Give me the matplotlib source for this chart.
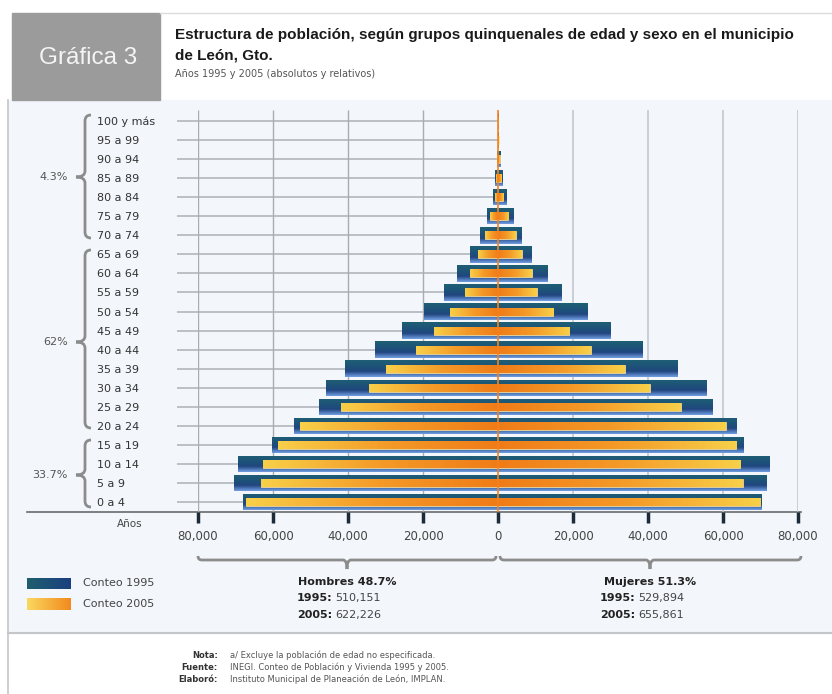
import numpy as np
import matplotlib
matplotlib.use('Agg')
import matplotlib.pyplot as plt
from matplotlib.colors import LinearSegmentedColormap
from matplotlib.patches import Rectangle, PathPatch
from matplotlib.path import Path

plt.rcParams['font.family'] = ['DejaVu Sans']

# grupos de edad, de abajo hacia arriba
edades = ['0 a 4', '5 a 9', '10 a 14', '15 a 19', '20 a 24', '25 a 29', '30 a 34',
          '35 a 39', '40 a 44', '45 a 49', '50 a 54', '55 a 59', '60 a 64', '65 a 69',
          '70 a 74', '75 a 79', '80 a 84', '85 a 89', '90 a 94', '95 a 99', '100 y más']

hombres_1995 = [68000, 70500, 69400, 60400, 54500, 47800, 45800, 40900, 32700, 25600, 19700,
                14500, 11000, 7500, 4800, 3000, 1400, 800, 400, 120, 40]
hombres_2005 = [67100, 63300, 62700, 58800, 52700, 42000, 34500, 29800, 21800, 17200, 12800,
                8800, 7400, 5400, 3600, 2100, 900, 500, 250, 80, 20]
mujeres_1995 = [70400, 71600, 72300, 65400, 63500, 57300, 55500, 48000, 38500, 30000, 23800,
                16900, 13200, 9000, 6300, 4100, 2300, 1300, 700, 200, 60]
mujeres_2005 = [69900, 65200, 64600, 63500, 60800, 48800, 40400, 33800, 24700, 19000, 14700,
                10300, 9000, 6300, 4800, 2700, 1400, 900, 500, 150, 40]

xticks = [-80000, -60000, -40000, -20000, 0, 20000, 40000, 60000, 80000]

grupos = [('4.3%', 115, 238, 177), ('62%', 250, 428, 342), ('33.7%', 440, 507, 475)]

W, H = 832, 694
fig = plt.figure(figsize=(W / 100, H / 100), dpi=100)

# capa de fondo en pixeles
bg = fig.add_axes([0, 0, 1, 1], zorder=0)
bg.set_xlim(0, W)
bg.set_ylim(H, 0)
bg.axis('off')

bg.add_patch(Rectangle((8, 100), W - 8, 533, color='#f3f6fa', zorder=0))
bg.plot([8, 8], [100, H], color='#c4c6c8', lw=1.2)
bg.plot([8, W], [633, 633], color='#c4c6c8', lw=1.5)
bg.plot([160, W], [13, 13], color='#dcdcdc', lw=1)
bg.add_patch(Rectangle((12, 13), 148, 87, color='#9b9b9b', zorder=1))
bg.text(88, 58, 'Gráfica 3', color='#f4f4f4', fontsize=17.5, ha='center', va='center',
        family='Liberation Sans')
bg.text(175, 35, 'Estructura de población, según grupos quinquenales de edad y sexo en el municipio',
        fontsize=11, fontweight='bold', color='#1a1a1a', va='center', family='Liberation Sans')
bg.text(175, 55, 'de León, Gto.', fontsize=11, fontweight='bold', color='#1a1a1a', va='center',
        family='Liberation Sans')
bg.text(175, 74, 'Años 1995 y 2005 (absolutos y relativos)', fontsize=7, color='#555555', va='center')

# eje horizontal
bg.plot([27, 801], [512, 512], color='#6a6a6a', lw=1.2, zorder=2)
bg.text(130, 524, 'Años', fontsize=7.5, color='#444444', ha='center', va='center')


def llave_v(x, y0, y1, ym, ax):
    r = 6
    d = 9
    verts = [(x + r, y0), (x, y0), (x, y0 + r), (x, ym - r), (x, ym), (x - d, ym),
             (x, ym), (x, ym + r), (x, y1 - r), (x, y1), (x + r, y1)]
    codes = [Path.MOVETO, Path.CURVE3, Path.CURVE3, Path.LINETO, Path.CURVE3, Path.CURVE3,
             Path.CURVE3, Path.CURVE3, Path.LINETO, Path.CURVE3, Path.CURVE3]
    ax.add_patch(PathPatch(Path(verts, codes), fill=False, ec='#8c8c8c', lw=2, zorder=2))


def llave_h(x0, x1, xm, y, ax):
    r = 4
    d = 9
    verts = [(x0, y), (x0, y + r), (x0 + r, y + r), (xm - r, y + r), (xm, y + r), (xm, y + r + d),
             (xm, y + r), (xm + r, y + r), (x1 - r, y + r), (x1, y + r), (x1, y)]
    codes = [Path.MOVETO, Path.CURVE3, Path.CURVE3, Path.LINETO, Path.CURVE3, Path.CURVE3,
             Path.CURVE3, Path.CURVE3, Path.LINETO, Path.CURVE3, Path.CURVE3]
    ax.add_patch(PathPatch(Path(verts, codes), fill=False, ec='#8c8c8c', lw=2, zorder=2))


for lab, y0, y1, ym in grupos:
    llave_v(85, y0, y1, ym, bg)
    bg.text(68, ym, lab, fontsize=8, color='#555555', ha='right', va='center')

llave_h(198, 496, 347, 556, bg)
llave_h(500, 801, 650, 556, bg)

# leyenda
azul = LinearSegmentedColormap.from_list('azul', ['#6f9be0', '#21467f', '#1d5478', '#1f5f74'])
amarillo = LinearSegmentedColormap.from_list('amarillo', ['#f07c18', '#f49a28', '#f8cf48'])
leg_azul = LinearSegmentedColormap.from_list('leg_azul', ['#1f5f6e', '#1b3f80'])
leg_amar = LinearSegmentedColormap.from_list('leg_amar', ['#fad85e', '#f28a1e'])
g = np.linspace(0, 1, 64).reshape(1, -1)
bg.imshow(g, extent=[27, 71, 589, 578], cmap=leg_azul, aspect='auto', zorder=2)
bg.imshow(g, extent=[27, 71, 610, 598], cmap=leg_amar, aspect='auto', zorder=2)
bg.set_xlim(0, W)
bg.set_ylim(H, 0)
bg.text(83, 583, 'Conteo 1995', fontsize=8, color='#444444', va='center')
bg.text(83, 604, 'Conteo 2005', fontsize=8, color='#444444', va='center')

for cx, tit, v95, v05 in [(347, 'Hombres 48.7%', '510,151', '622,226'),
                          (650, 'Mujeres 51.3%', '529,894', '655,861')]:
    bg.text(cx, 582, tit, fontsize=8, fontweight='bold', color='#222222', ha='center', va='center')
    bg.text(cx - 15, 598, '1995:', fontsize=8, fontweight='bold', color='#222222', ha='right', va='center')
    bg.text(cx - 12, 598, v95, fontsize=8, color='#444444', va='center')
    bg.text(cx - 15, 615, '2005:', fontsize=8, fontweight='bold', color='#222222', ha='right', va='center')
    bg.text(cx - 12, 615, v05, fontsize=8, color='#444444', va='center')

notas = [('Nota:', 'a/ Excluye la población de edad no especificada.'),
         ('Fuente:', 'INEGI. Conteo de Población y Vivienda 1995 y 2005.'),
         ('Elaboró:', 'Instituto Municipal de Planeación de León, IMPLAN.')]
for i, (k, v) in enumerate(notas):
    bg.text(218, 655 + 12 * i, k, fontsize=6, fontweight='bold', color='#333333', ha='right', va='center')
    bg.text(230, 655 + 12 * i, v, fontsize=6, color='#555555', va='center')

# piramide
ax = fig.add_axes([198 / W, (H - 512) / H, 600 / W, 402 / H], zorder=1)
ax.patch.set_alpha(0)
for s in ax.spines.values():
    s.set_visible(False)
ylim = (-0.525, 20.58)
xlim = (-80000, 80000)
y = np.arange(len(edades))

ax.hlines(y, -85600, 0, color='#b7bcc2', lw=1.3, zorder=0.5, clip_on=False)
ax.vlines([t for t in xticks if t < 0], ylim[0], ylim[1], color='#a9adb2', lw=1, zorder=0.5)
ax.vlines([t for t in xticks if t > 0], ylim[0], ylim[1], color='#c3c7cc', lw=1.2, zorder=0.5)

b95 = list(ax.barh(y, -np.array(hombres_1995), height=0.86, color='#1f5575', zorder=2))
b95 += list(ax.barh(y, mujeres_1995, height=0.86, color='#1f5575', zorder=2))
b05 = list(ax.barh(y, -np.array(hombres_2005), height=0.42, color='#f4a02a',
                   edgecolor='#fdeeb0', lw=0.5, zorder=3))
b05 += list(ax.barh(y, mujeres_2005, height=0.42, color='#f4a02a',
                    edgecolor='#fdeeb0', lw=0.5, zorder=3))

gv = np.linspace(0, 1, 32).reshape(-1, 1)
for b in b95:
    x0, y0, w, h = b.get_x(), b.get_y(), b.get_width(), b.get_height()
    im = ax.imshow(gv, extent=[x0, x0 + w, y0, y0 + h], origin='lower', aspect='auto',
                   cmap=azul, zorder=2.1, interpolation='bilinear')
    im.set_clip_path(b)
for b in b05:
    x0, y0, w, h = b.get_x(), b.get_y(), b.get_width(), b.get_height()
    im = ax.imshow(g, extent=[x0, x0 + w, y0, y0 + h], origin='lower', aspect='auto',
                   cmap=amarillo, zorder=3.1, interpolation='bilinear')
    im.set_clip_path(b)

ax.axvline(0, color='#f5821f', lw=1.2, zorder=5)
ax.set_xlim(xlim)
ax.set_ylim(ylim)

ax.set_xticks(xticks)
ax.set_xticklabels([f'{abs(v):,}' for v in xticks], fontsize=8.5, color='#444444')
ax.tick_params(axis='x', length=8, width=2.5, color='#1c2a3a', pad=5)
ax.xaxis.get_major_ticks()[4].tick1line.set_color('#f5821f')
ax.set_yticks(y)
ax.set_yticklabels(edades, fontsize=8, color='#333333', ha='left')
ax.tick_params(axis='y', length=0, pad=72.7)

fig.savefig('out.png', dpi=100, facecolor='white')
